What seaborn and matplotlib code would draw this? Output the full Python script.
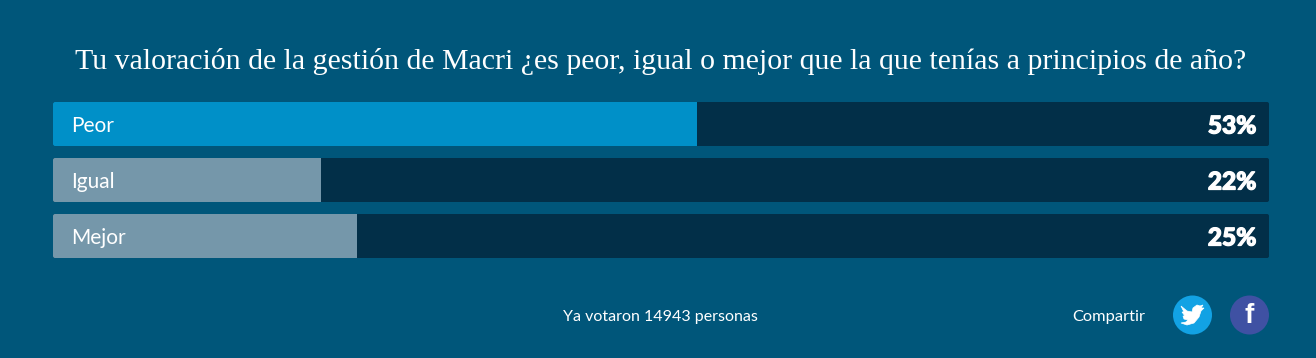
import matplotlib
matplotlib.use('Agg')
import matplotlib.pyplot as plt
import matplotlib.patheffects as pe
from matplotlib.patches import Circle, FancyBboxPatch, PathPatch
from matplotlib.path import Path
from matplotlib.transforms import IdentityTransform
import pandas as pd
import seaborn as sns

title = 'Tu valoración de la gestión de Macri ¿es peor, igual o mejor que la que tenías a principios de año?'
answers = ['Peor', 'Igual', 'Mejor']
shares = [53, 22, 25]
full = [100, 100, 100]
pct_labels = ['53%', '22%', '25%']
votes_text = 'Ya votaron 14943 personas'
share_text = 'Compartir'

BG = '#00567a'
TRACK = '#022f48'
BLUE = '#0090c8'
GREY = '#7597aa'
W, H = 1316, 358

sns.set_theme(style='white')
plt.rcParams['font.family'] = ['Lato', 'DejaVu Sans']

df = pd.DataFrame({'answer': answers, 'share': shares, 'full': full})

fig = plt.figure(figsize=(W / 100, H / 100), dpi=100, facecolor=BG)
# axes in pixels, row pitch is 56px and bars are 44px high
ax = fig.add_axes([53 / W, 1 - 264 / H, 1216 / W, 168 / H])
ax.set_facecolor('none')

sns.barplot(data=df, y='answer', x='full', color=TRACK, width=44 / 56, ax=ax, saturation=1)
sns.barplot(data=df, y='answer', x='share', hue='answer', palette=[BLUE, GREY, GREY],
            width=44 / 56, ax=ax, saturation=1, legend=False)

ax.set_xlim(0, 100)
ax.set_ylim(2.5, -0.5)
ax.set_axis_off()

# small rounded corners: tracks on both ends, filled bars only on the left
fig.canvas.draw()
for k, bar in enumerate(ax.patches):
    bb = bar.get_window_extent()
    extra = 0 if k < 3 else 10
    clip = FancyBboxPatch((bb.x0 + 2, bb.y0 + 2), bb.width - 4 + extra, bb.height - 4,
                          boxstyle='round,pad=2,rounding_size=2', transform=IdentityTransform())
    bar.set_clip_path(clip)
    bar.set_linewidth(0)

for i, name in enumerate(answers):
    ax.text(1.48, i, name, color='white', fontsize=15, va='center_baseline', ha='left')
    ax.text(98.95, i, pct_labels[i], color='white', fontsize=17.6, fontweight='black',
            va='center_baseline', ha='right',
            path_effects=[pe.withStroke(linewidth=0.9, foreground='white')])

fig.text(661 / W, 1 - 61.5 / H, title, color='white', fontsize=21.5, ha='center', va='center',
         family=['Liberation Serif', 'DejaVu Serif'])
fig.text(660.5 / W, 1 - 316.5 / H, votes_text, color='white', fontsize=11.55, ha='center', va='center')
fig.text(1109 / W, 1 - 316.5 / H, share_text, color='white', fontsize=11.8, ha='center', va='center')

# share buttons, in pixel coordinates
ov = fig.add_axes([0, 0, 1, 1])
ov.set_xlim(0, W)
ov.set_ylim(H, 0)
ov.set_axis_off()
ov.patch.set_alpha(0)
ov.add_patch(Circle((1192.5, 315), 19.5, color='#12a2e4', lw=0))
ov.add_patch(Circle((1249.5, 315), 19.5, color='#3f51a3', lw=0))
ov.text(1249.5, 316, 'f', color='white', fontsize=20, fontweight='bold', ha='center', va='center',
        family=['Liberation Sans', 'DejaVu Sans'])

bird = [(1181, 306), (1187, 311), (1192, 312), (1193, 308), (1197, 305), (1200, 306), (1203, 305),
        (1201, 308), (1204, 308), (1201, 311), (1199, 317), (1194, 323), (1187, 325), (1181, 323),
        (1186, 322), (1188, 320), (1184, 319), (1183, 316), (1185, 316), (1182, 312), (1184, 312),
        (1181, 306)]
codes = [Path.MOVETO] + [Path.LINETO] * (len(bird) - 2) + [Path.CLOSEPOLY]
ov.add_patch(PathPatch(Path(bird, codes), facecolor='white', edgecolor='white', lw=0.5))

fig.savefig('out.png', dpi=100, facecolor=BG)
